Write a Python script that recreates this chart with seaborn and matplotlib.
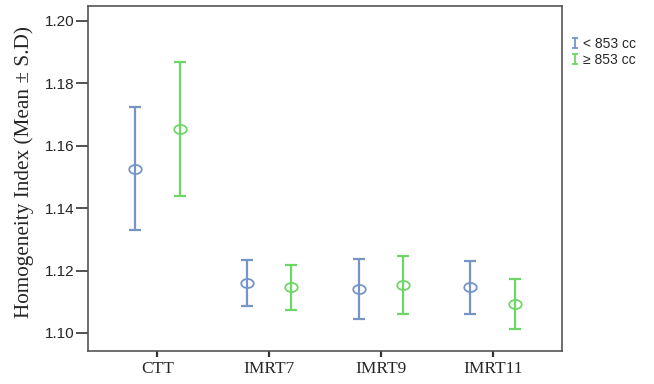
import numpy as np
import pandas as pd
import matplotlib
matplotlib.use("Agg")
import matplotlib.pyplot as plt
from matplotlib.path import Path
from matplotlib.lines import Line2D
import seaborn as sns

categories = ["CTT", "IMRT7", "IMRT9", "IMRT11"]
groups = ["< 853 cc", "\u2265 853 cc"]
mean_small = [1.1526, 1.1160, 1.1141, 1.1147]
sd_small = [0.0197, 0.0074, 0.0096, 0.0085]
mean_large = [1.1654, 1.1147, 1.1154, 1.1093]
sd_large = [0.0215, 0.0072, 0.0092, 0.0080]

colors = ["#7595c6", "#6ed666"]

df = pd.DataFrame({
    "Technique": categories * 2,
    "Group": [groups[0]] * 4 + [groups[1]] * 4,
    "Mean": mean_small + mean_large,
    "SD": sd_small + sd_large,
})

sns.set_style("white")
plt.rcParams["font.family"] = ["Liberation Sans", "DejaVu Sans"]

# open ellipse marker (wider than tall)
t = np.linspace(0, 2 * np.pi, 40)
ellipse = Path(np.column_stack([np.cos(t), 0.72 * np.sin(t)]), closed=True)
# I-beam marker for legend
ibeam = Path([(-0.6, -1), (0.6, -1), (0, -1), (0, 1), (-0.6, 1), (0.6, 1)],
             [Path.MOVETO, Path.LINETO, Path.MOVETO, Path.LINETO, Path.MOVETO, Path.LINETO])

fig = plt.figure(figsize=(6.54, 3.84), dpi=100)
ax = fig.add_axes([88 / 654, 33 / 384, (562 - 88) / 654, (351 - 6) / 384])

dodge = 0.4
sns.pointplot(data=df, x="Technique", y="Mean", hue="Group", order=categories,
              hue_order=groups, palette=colors, dodge=dodge, linestyle="none",
              errorbar=None, markers=ellipse, markersize=9,
              markeredgewidth=1.3, ax=ax, legend=False)
for line in ax.lines:
    line.set_markerfacecolor("none")

handles = []
for gi, (g, c) in enumerate(zip(groups, colors)):
    sub = df[df["Group"] == g].set_index("Technique").loc[categories]
    xs = np.arange(len(categories)) + (gi - 0.5) * dodge
    ax.errorbar(xs, sub["Mean"], yerr=sub["SD"], fmt="none", ecolor=c,
                elinewidth=1.6, capsize=4.3, capthick=1.6)
    handles.append(Line2D([], [], linestyle="none", marker=ibeam, markersize=7,
                          markeredgecolor=c, markerfacecolor="none",
                          markeredgewidth=1.3))

ax.set_xlim(-0.62, 3.62)
ax.set_ylim(1.0942, 1.2048)
ax.set_yticks([1.10, 1.12, 1.14, 1.16, 1.18, 1.20])
ax.set_yticklabels(["1.10", "1.12", "1.14", "1.16", "1.18", "1.20"], fontsize=11)
ax.set_xticks(range(len(categories)))
ax.set_xticklabels(categories, fontsize=12.5, family=["Liberation Serif"])
ax.set_xlabel("")
ax.set_ylabel("Homogeneity Index (Mean \u00b1 S.D)", fontsize=15.3,
              family=["Liberation Serif", "DejaVu Serif"])
ax.yaxis.set_label_coords(-0.113, 0.52)

for s in ax.spines.values():
    s.set_color("#555555")
    s.set_linewidth(1.2)
ax.tick_params(axis="y", length=8.5, width=1.2, color="#333333",
               direction="out", left=True, pad=1)
ax.tick_params(axis="x", length=4.5, width=1.6, color="#333333",
               direction="out", bottom=True, pad=3)

leg = fig.legend(handles=handles, labels=groups, loc="upper left",
                 bbox_to_anchor=(565 / 654, 1 - 31 / 384), frameon=False,
                 fontsize=10, handlelength=0.6, handletextpad=0.3,
                 labelspacing=0.2, borderaxespad=0)

fig.savefig("out.png", dpi=100)
